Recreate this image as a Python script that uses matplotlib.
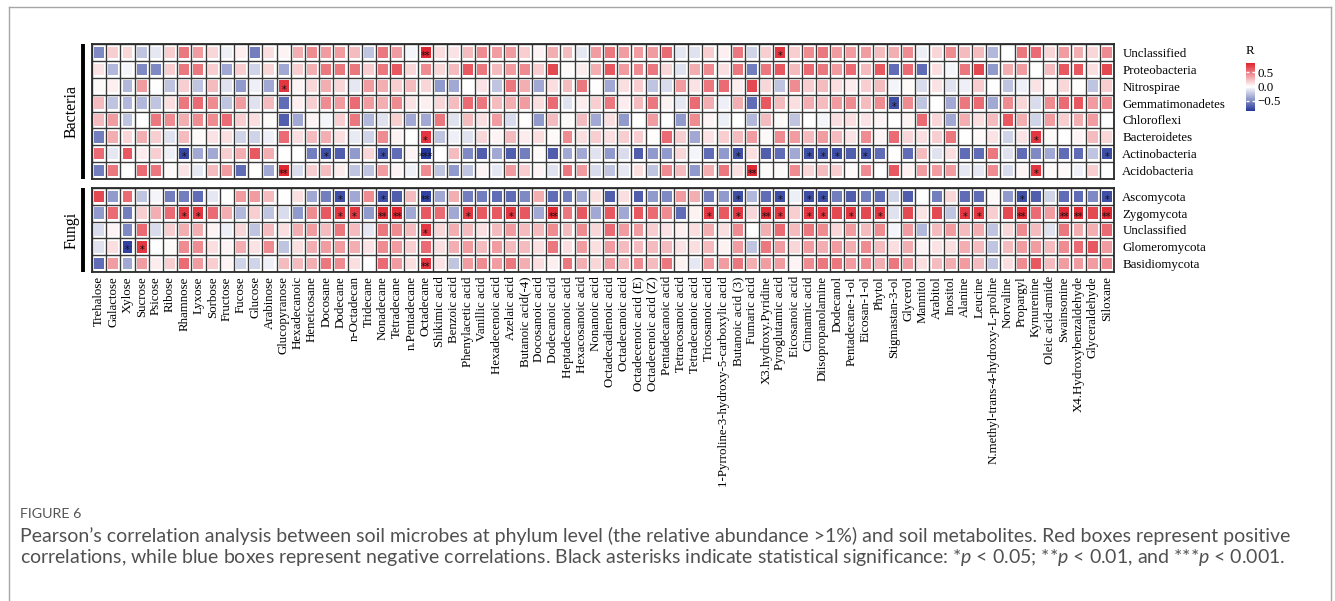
import numpy as np
import matplotlib.pyplot as plt
from matplotlib.colors import LinearSegmentedColormap, Normalize
from matplotlib.patches import Rectangle
from matplotlib.collections import PatchCollection
from matplotlib.lines import Line2D

plt.rcParams['mathtext.fontset'] = 'custom'
plt.rcParams['mathtext.rm'] = 'Lato'
plt.rcParams['mathtext.it'] = 'Lato:italic'

SERIF = 'Liberation Serif'

metabolites = [
    "Trehalose", "Galactose", "Xylose", "Sucrose", "Psicose", "Ribose",
    "Rhamnose", "Lyxose", "Sorbose", "Fructose", "Fucose", "Glucose",
    "Arabinose", "Glucopyranose", "Hexadecanoic", "Heneicosane", "Docosane", "Dodecane",
    "n-Octadecan", "Tridecane", "Nonadecane", "Tetradecane", "n.Pentadecane", "Octadecane",
    "Shikimic acid", "Benzoic acid", "Phenylacetic acid", "Vanillic acid", "Hexadecenoic acid", "Azelaic acid",
    "Butanoic acid(-4)", "Docosanoic acid", "Dodecanoic acid", "Heptadecanoic acid", "Hexacosanoic acid", "Nonanoic acid",
    "Octadecadienoic acid", "Octadecanoic acid", "Octadecenoic acid (E)", "Octadecenoic acid (Z)", "Pentadecanoic acid", "Tetracosanoic acid",
    "Tetradecanoic acid", "Tricosanoic acid", "1-Pyrroline-3-hydroxy-5-carboxylic acid", "Butanoic acid (3)", "Fumaric acid", "X3.hydroxy.Pyridine",
    "Pyroglutamic acid", "Eicosanoic acid", "Cinnamic acid", "Diisopropanolamine", "Dodecanol", "Pentadecane-1-ol",
    "Eicosan-1-ol", "Phytol", "Stigmastan-3-ol", "Glycerol", "Mannitol", "Arabitol",
    "Inositol", "Alanine", "Leucine", "N.methyl-trans-4-hydroxy-L-proline", "Norvaline", "Propargyl",
    "Kynurenine", "Oleic acid-amide", "Swainsonine", "X4.Hydroxybenzaldehyde", "Glyceraldehyde", "Siloxane",
]

bacteria = ["Unclassified", "Proteobacteria", "Nitrospirae", "Gemmatimonadetes",
            "Chloroflexi", "Bacteroidetes", "Actinobacteria", "Acidobacteria"]
fungi = ["Ascomycota", "Zygomycota", "Unclassified", "Glomeromycota", "Basidiomycota"]

# Pearson r, bacteria rows
bac_unclassified = [
    -0.5, 0.18, 0.15, -0.25, -0.1, 0.18, 0.5, 0.37, 0.15, -0.06, 0.06, -0.55,
    0.12, 0.04, 0.3, 0.43, 0.37, 0.37, 0.25, -0.25, 0.5, 0.37, -0.04, 0.8,
    0.12, 0.1, 0.25, 0.43, 0.37, 0.37, 0.18, 0.04, 0.3, 0.25, -0.1, 0.37,
    0.5, 0.37, 0.37, 0.37, 0.55, -0.1, -0.12, 0.18, 0.06, 0.5, -0.18, 0.18,
    0.75, 0.18, 0.43, 0.5, 0.37, 0.37, 0.37, 0.25, 0.3, 0.43, -0.07, 0.15,
    0.43, 0.25, 0.25, -0.3, 0.0, 0.5, 0.55, 0.15, 0.37, 0.3, 0.15, 0.43]
proteobacteria = [
    0.1, -0.3, -0.04, -0.5, -0.5, 0.18, 0.5, 0.5, 0.18, -0.37, 0.18, -0.18,
    0.15, -0.37, 0.18, 0.3, 0.5, 0.5, 0.5, 0.18, 0.5, 0.62, 0.15, 0.43,
    0.15, 0.25, 0.62, 0.5, 0.25, 0.37, 0.43, 0.18, 0.68, 0.02, 0.07, 0.3,
    0.62, 0.37, 0.43, 0.5, 0.15, -0.12, 0.3, 0.43, 0.12, 0.5, -0.55, 0.5,
    0.62, 0.25, 0.55, 0.5, 0.37, 0.55, 0.25, 0.62, -0.62, 0.55, -0.62, 0.12,
    -0.04, 0.5, 0.68, -0.43, 0.3, 0.37, 0.0, 0.25, 0.62, 0.62, 0.12, 0.68]
nitrospirae = [
    0.02, 0.06, -0.3, 0.37, 0.0, -0.25, 0.18, -0.25, 0.25, -0.12, -0.43, -0.06,
    -0.37, 0.75, 0.04, 0.15, 0.3, 0.15, -0.1, 0.37, 0.3, 0.18, 0.25, 0.15,
    -0.43, -0.37, 0.0, 0.1, -0.25, 0.5, 0.3, -0.37, 0.12, 0.25, 0.5, 0.0,
    -0.37, 0.12, 0.18, -0.25, -0.15, 0.37, 0.1, 0.5, 0.55, 0.07, 0.68, 0.15,
    -0.25, 0.43, 0.18, 0.25, 0.12, 0.07, 0.18, 0.25, -0.04, 0.02, -0.15, 0.1,
    -0.12, -0.06, 0.18, 0.0, -0.25, -0.06, 0.1, 0.02, 0.15, 0.01, -0.25, 0.18]
gemmatimonadetes = [
    0.25, -0.25, -0.3, -0.3, -0.25, 0.12, 0.5, 0.55, 0.43, -0.25, 0.37, -0.12,
    0.25, -0.62, 0.06, 0.18, 0.43, 0.37, 0.55, 0.37, 0.3, 0.43, 0.1, 0.06,
    0.15, 0.25, 0.55, 0.5, 0.25, 0.3, 0.37, 0.12, 0.55, -0.12, 0.07, 0.18,
    0.5, 0.07, 0.25, 0.5, 0.05, -0.1, 0.55, 0.3, -0.06, 0.3, -0.62, 0.62,
    0.25, 0.12, 0.3, 0.25, 0.37, 0.43, 0.25, 0.43, -0.75, 0.43, -0.25, 0.0,
    -0.37, 0.5, 0.55, -0.37, 0.43, 0.15, -0.15, 0.43, 0.55, 0.62, 0.37, 0.43]
chloroflexi = [
    0.25, 0.37, -0.25, 0.0, 0.5, 0.43, 0.3, 0.43, 0.43, 0.55, 0.18, 0.12,
    0.02, -0.68, -0.37, 0.04, -0.04, 0.18, 0.5, -0.3, -0.12, 0.18, -0.37, -0.37,
    0.5, -0.12, 0.25, 0.12, 0.37, -0.15, 0.0, -0.43, 0.25, 0.02, 0.25, -0.37,
    0.12, -0.43, 0.0, 0.37, 0.0, -0.43, 0.43, 0.04, -0.07, 0.0, -0.3, 0.25,
    0.02, -0.25, 0.0, -0.04, 0.12, 0.12, 0.1, 0.04, 0.0, 0.05, 0.55, 0.15,
    -0.37, 0.3, 0.12, 0.25, 0.62, 0.3, -0.18, 0.37, 0.18, 0.3, 0.37, 0.0]
bacteroidetes = [
    -0.55, 0.3, 0.15, 0.3, 0.18, -0.12, 0.25, 0.02, 0.1, 0.12, -0.18, -0.18,
    -0.06, 0.55, 0.12, 0.25, 0.3, 0.12, -0.09, -0.18, 0.43, 0.05, 0.0, 0.75,
    -0.25, -0.06, -0.12, 0.15, 0.04, 0.25, 0.07, 0.12, 0.02, 0.43, 0.12, 0.18,
    0.12, 0.18, 0.18, 0.01, 0.55, 0.18, -0.37, 0.1, 0.18, 0.25, 0.37, 0.02,
    0.43, 0.37, 0.25, 0.37, 0.25, 0.1, 0.43, 0.04, 0.55, 0.15, 0.12, 0.18,
    0.5, 0.0, 0.02, 0.1, -0.18, 0.1, 0.75, 0.02, 0.0, 0.04, 0.25, 0.15]
actinobacteria = [
    0.55, -0.1, 0.62, 0.07, 0.18, -0.06, -0.78, -0.37, -0.37, 0.18, 0.3, 0.62,
    0.3, 0.0, 0.0, -0.55, -0.75, -0.68, -0.43, 0.15, -0.75, -0.62, 0.04, -0.88,
    0.0, 0.25, -0.5, -0.68, -0.37, -0.68, -0.55, 0.02, -0.68, -0.37, -0.37, -0.12,
    -0.43, -0.15, -0.68, -0.43, -0.43, 0.15, -0.04, -0.62, -0.43, -0.75, 0.12, -0.68,
    -0.62, -0.37, -0.75, -0.75, -0.75, -0.68, -0.75, -0.62, 0.0, -0.62, 0.25, -0.12,
    0.12, -0.62, -0.62, 0.5, -0.12, -0.62, -0.5, -0.37, -0.62, -0.62, -0.25, -0.75]
acidobacteria = [
    -0.55, 0.5, 0.0, 0.55, 0.5, 0.02, 0.1, -0.1, 0.25, 0.37, -0.62, 0.0,
    -0.37, 0.8, -0.15, 0.18, 0.25, 0.07, -0.25, -0.25, 0.37, 0.04, -0.06, 0.43,
    -0.25, -0.43, -0.25, 0.04, -0.1, 0.37, 0.18, 0.04, -0.12, 0.5, 0.37, -0.15,
    -0.25, -0.1, 0.12, -0.25, 0.43, 0.25, -0.43, 0.3, 0.5, 0.12, 0.8, 0.02,
    0.02, 0.43, 0.15, 0.25, 0.18, 0.02, 0.43, 0.0, 0.62, 0.06, 0.37, 0.37,
    0.37, -0.1, -0.1, 0.43, -0.15, 0.04, 0.75, 0.02, 0.02, -0.06, 0.18, 0.0]

# Pearson r, fungi rows
ascomycota = [
    0.68, -0.43, 0.55, -0.25, -0.04, -0.55, -0.55, -0.62, -0.1, 0.0, 0.37, 0.37,
    0.25, 0.0, 0.12, -0.37, -0.55, -0.75, -0.37, 0.43, -0.75, -0.68, 0.25, -0.8,
    -0.37, 0.3, -0.55, -0.55, -0.62, -0.62, -0.5, 0.3, -0.62, -0.55, -0.37, 0.12,
    -0.68, 0.12, -0.68, -0.43, -0.5, 0.37, 0.3, -0.55, -0.43, -0.75, -0.3, -0.62,
    -0.75, -0.07, -0.75, -0.75, -0.55, -0.68, -0.55, -0.62, -0.18, -0.68, 0.0, -0.55,
    0.15, -0.62, -0.62, 0.02, -0.43, -0.75, -0.68, -0.18, -0.62, -0.62, -0.5, -0.75]
zygomycota = [
    -0.43, 0.55, -0.55, 0.18, 0.3, 0.55, 0.75, 0.75, 0.55, 0.3, -0.3, 0.18,
    -0.25, -0.15, -0.43, 0.43, 0.62, 0.75, 0.75, -0.43, 0.8, 0.8, -0.37, 0.62,
    0.55, -0.37, 0.75, 0.62, 0.62, 0.75, 0.62, -0.37, 0.8, 0.5, 0.62, -0.37,
    0.62, -0.37, 0.62, 0.55, 0.43, -0.62, 0.05, 0.75, 0.62, 0.75, 0.15, 0.8,
    0.75, 0.18, 0.75, 0.75, 0.68, 0.75, 0.68, 0.75, -0.12, 0.68, 0.1, 0.68,
    -0.25, 0.75, 0.75, 0.18, 0.68, 0.8, 0.55, 0.37, 0.8, 0.8, 0.68, 0.8]
fun_unclassified = [
    -0.15, 0.04, -0.5, 0.55, -0.15, 0.18, 0.3, 0.3, 0.04, -0.06, 0.15, -0.25,
    0.25, 0.12, 0.3, 0.37, 0.25, 0.5, 0.25, -0.1, 0.5, 0.43, 0.25, 0.75,
    0.15, 0.3, 0.25, 0.12, 0.25, 0.37, 0.25, 0.25, 0.43, 0.25, 0.43, 0.15,
    0.55, 0.37, 0.37, 0.18, 0.1, 0.06, 0.12, 0.3, 0.12, 0.43, 0.0, 0.3,
    0.55, 0.25, 0.5, 0.43, 0.15, 0.37, 0.25, 0.43, -0.04, 0.37, -0.3, 0.25,
    0.37, 0.25, 0.3, -0.25, 0.15, 0.43, 0.25, -0.12, 0.5, 0.3, 0.3, 0.55]
glomeromycota = [
    -0.12, 0.12, -0.8, 0.75, 0.0, 0.02, 0.43, 0.43, 0.12, 0.04, 0.3, 0.1,
    0.43, -0.25, 0.12, 0.3, 0.37, 0.37, 0.3, 0.1, 0.43, 0.37, 0.18, 0.55,
    0.12, 0.3, 0.37, 0.25, 0.37, 0.25, 0.25, 0.12, 0.5, 0.12, 0.37, 0.12,
    0.37, 0.25, 0.25, 0.25, 0.25, 0.1, 0.12, 0.25, 0.05, 0.37, -0.25, 0.5,
    0.37, 0.15, 0.37, 0.3, 0.37, 0.3, 0.43, 0.25, 0.12, 0.3, 0.04, 0.1,
    0.12, 0.3, 0.25, -0.25, 0.25, 0.37, 0.37, 0.25, 0.43, 0.55, 0.62, 0.37]
basidiomycota = [
    -0.62, 0.37, -0.37, 0.37, 0.07, 0.18, 0.55, 0.37, 0.18, 0.04, -0.18, -0.18,
    -0.06, 0.25, 0.25, 0.3, 0.5, 0.43, 0.12, 0.0, 0.55, 0.37, 0.12, 0.75,
    0.1, -0.25, 0.37, 0.43, 0.37, 0.5, 0.3, 0.12, 0.06, 0.5, 0.3, 0.15,
    0.37, 0.25, 0.43, 0.25, 0.5, 0.05, -0.1, 0.37, 0.37, 0.5, 0.3, 0.37,
    0.37, 0.04, 0.43, 0.5, 0.5, 0.37, 0.43, 0.3, 0.5, 0.37, 0.12, 0.25,
    0.3, 0.37, 0.25, -0.25, 0.12, 0.43, 0.62, 0.25, 0.37, 0.37, 0.37, 0.43]

# significance marks: (row, metabolite, stars)
bac_stars = [
    ("Unclassified", "Octadecane", "**"), ("Unclassified", "Pyroglutamic acid", "*"),
    ("Nitrospirae", "Glucopyranose", "*"),
    ("Gemmatimonadetes", "Stigmastan-3-ol", "*"),
    ("Bacteroidetes", "Octadecane", "*"), ("Bacteroidetes", "Kynurenine", "*"),
    ("Actinobacteria", "Rhamnose", "*"), ("Actinobacteria", "Docosane", "*"),
    ("Actinobacteria", "Nonadecane", "*"), ("Actinobacteria", "Octadecane", "***"),
    ("Actinobacteria", "Butanoic acid (3)", "*"), ("Actinobacteria", "Cinnamic acid", "*"),
    ("Actinobacteria", "Diisopropanolamine", "*"), ("Actinobacteria", "Dodecanol", "*"),
    ("Actinobacteria", "Eicosan-1-ol", "*"), ("Actinobacteria", "Siloxane", "*"),
    ("Acidobacteria", "Glucopyranose", "**"), ("Acidobacteria", "Fumaric acid", "**"),
    ("Acidobacteria", "Kynurenine", "*"),
]
fun_stars = [
    ("Ascomycota", "Dodecane", "*"), ("Ascomycota", "Nonadecane", "*"),
    ("Ascomycota", "Octadecane", "**"), ("Ascomycota", "Butanoic acid (3)", "*"),
    ("Ascomycota", "Pyroglutamic acid", "*"), ("Ascomycota", "Cinnamic acid", "*"),
    ("Ascomycota", "Diisopropanolamine", "*"), ("Ascomycota", "Propargyl", "*"),
    ("Ascomycota", "Siloxane", "*"),
    ("Zygomycota", "Rhamnose", "*"), ("Zygomycota", "Lyxose", "*"),
    ("Zygomycota", "Dodecane", "*"), ("Zygomycota", "n-Octadecan", "*"),
    ("Zygomycota", "Nonadecane", "**"), ("Zygomycota", "Tetradecane", "**"),
    ("Zygomycota", "Phenylacetic acid", "*"), ("Zygomycota", "Azelaic acid", "*"),
    ("Zygomycota", "Dodecanoic acid", "**"), ("Zygomycota", "Tricosanoic acid", "*"),
    ("Zygomycota", "Butanoic acid (3)", "*"), ("Zygomycota", "X3.hydroxy.Pyridine", "**"),
    ("Zygomycota", "Pyroglutamic acid", "*"), ("Zygomycota", "Cinnamic acid", "*"),
    ("Zygomycota", "Diisopropanolamine", "*"), ("Zygomycota", "Pentadecane-1-ol", "*"),
    ("Zygomycota", "Phytol", "*"), ("Zygomycota", "Alanine", "*"),
    ("Zygomycota", "Leucine", "*"), ("Zygomycota", "Propargyl", "**"),
    ("Zygomycota", "Swainsonine", "**"), ("Zygomycota", "X4.Hydroxybenzaldehyde", "**"),
    ("Zygomycota", "Siloxane", "**"),
    ("Unclassified", "Octadecane", "*"),
    ("Glomeromycota", "Xylose", "*"), ("Glomeromycota", "Sucrose", "*"),
    ("Basidiomycota", "Octadecane", "**"),
]

bac_mat = np.array([bac_unclassified, proteobacteria, nitrospirae, gemmatimonadetes,
                    chloroflexi, bacteroidetes, actinobacteria, acidobacteria])
fun_mat = np.array([ascomycota, zygomycota, fun_unclassified, glomeromycota, basidiomycota])

cmap = LinearSegmentedColormap.from_list('rwb', ['#26379A', '#FFFFFF', '#DE1B26'])
norm = Normalize(vmin=-0.85, vmax=0.85)

fig = plt.figure(figsize=(13.35, 6.01), dpi=100)

W, H = 1335, 601
def box(x0, y0, x1, y1):
    # pixel box -> figure fraction
    return [x0 / W, 1 - y1 / H, (x1 - x0) / W, (y1 - y0) / H]

ax_b = fig.add_axes(box(92, 44, 1114, 179))
ax_f = fig.add_axes(box(92, 188, 1114, 272))


def draw_panel(ax, rows, mat, stars, group, show_x):
    n_r, n_c = mat.shape
    for i in range(n_c + 1):
        ax.axvline(i, color='#3a3a3a', lw=1.0, zorder=1)
    for j in range(n_r + 1):
        ax.axhline(j, color='#3a3a3a', lw=1.0, zorder=1)
    px, py = 0.15, 0.16
    rects = [Rectangle((c + px, r + py), 1 - 2 * px, 1 - 2 * py)
             for r in range(n_r) for c in range(n_c)]
    pc = PatchCollection(rects, cmap=cmap, norm=norm, edgecolor='none', zorder=2)
    pc.set_array(mat.ravel())
    ax.add_collection(pc)
    for row, col, s in stars:
        ax.text(metabolites.index(col) + 0.5, rows.index(row) + 0.72, s,
                ha='center', va='center', fontsize=7, color='#111111', zorder=3)
    ax.set_xlim(0, n_c)
    ax.set_ylim(n_r, 0)
    for sp in ax.spines.values():
        sp.set_linewidth(1.3)
        sp.set_color('#2a2a2a')
    ax.yaxis.tick_right()
    ax.set_yticks(np.arange(n_r) + 0.5)
    ax.set_yticklabels(rows, fontsize=9.3, family=SERIF)
    ax.tick_params(axis='y', length=0, pad=6)
    if show_x:
        ax.set_xticks(np.arange(n_c) + 0.5)
        ax.set_xticklabels(metabolites, rotation=90, fontsize=9.3, family=SERIF)
        ax.tick_params(axis='x', length=0, pad=3)
    else:
        ax.set_xticks([])
    # group bar and label
    ax.plot([-0.009, -0.009], [0, 1], transform=ax.transAxes, color='black',
            lw=2.8, clip_on=False, solid_capstyle='butt')
    ax.text(-0.0195, 0.5, group, transform=ax.transAxes, rotation=90,
            ha='center', va='center', fontsize=11.5, family=SERIF)
    return pc


pc = draw_panel(ax_b, bacteria, bac_mat, bac_stars, 'Bacteria', False)
draw_panel(ax_f, fungi, fun_mat, fun_stars, 'Fungi', True)

# colour bar
cax = fig.add_axes(box(1246, 63, 1255, 113))
cb = fig.colorbar(pc, cax=cax, ticks=[-0.5, 0.0, 0.5])
cb.outline.set_visible(False)
cax.set_ylim(-0.92, 0.82)
cax.tick_params(length=2.5, color='white', direction='in', width=1, pad=2,
                left=True, right=True, labelsize=9.3)
cax.set_yticklabels(['\u22120.5', '0.0', '0.5'], family=SERIF)
fig.text(1246 / W, 1 - 51 / H, 'R', fontsize=9.3, family=SERIF, ha='left', va='center')

# page frame
frame = dict(color='#a6a6a6', lw=1.0, transform=fig.transFigure)
fig.add_artist(Line2D([9 / W, 1331 / W], [1 - 7 / H, 1 - 7 / H], **frame))
fig.add_artist(Line2D([9 / W, 9 / W], [0, 1 - 7 / H], **frame))
fig.add_artist(Line2D([1331 / W, 1331 / W], [0, 1 - 7 / H], **frame))

# caption
fig.text(20 / W, 1 - 514 / H, 'FIGURE 6', fontsize=10.3, family='Lato',
         color='#555555', ha='left', va='center')
cap1 = ("Pearson\u2019s correlation analysis between soil microbes at phylum level "
        "(the relative abundance >1%) and soil metabolites. Red boxes represent positive")
cap2 = ("correlations, while blue boxes represent negative correlations. Black asterisks "
        "indicate statistical significance: *$p$ < 0.05; **$p$ < 0.01, and ***$p$ < 0.001.")
fig.text(20 / W, 1 - 536 / H, cap1, fontsize=14, family='Lato', color='#505050',
         ha='left', va='center')
fig.text(20 / W, 1 - 558 / H, cap2, fontsize=14, family='Lato', color='#505050',
         ha='left', va='center')

fig.savefig('out.png', dpi=100)
